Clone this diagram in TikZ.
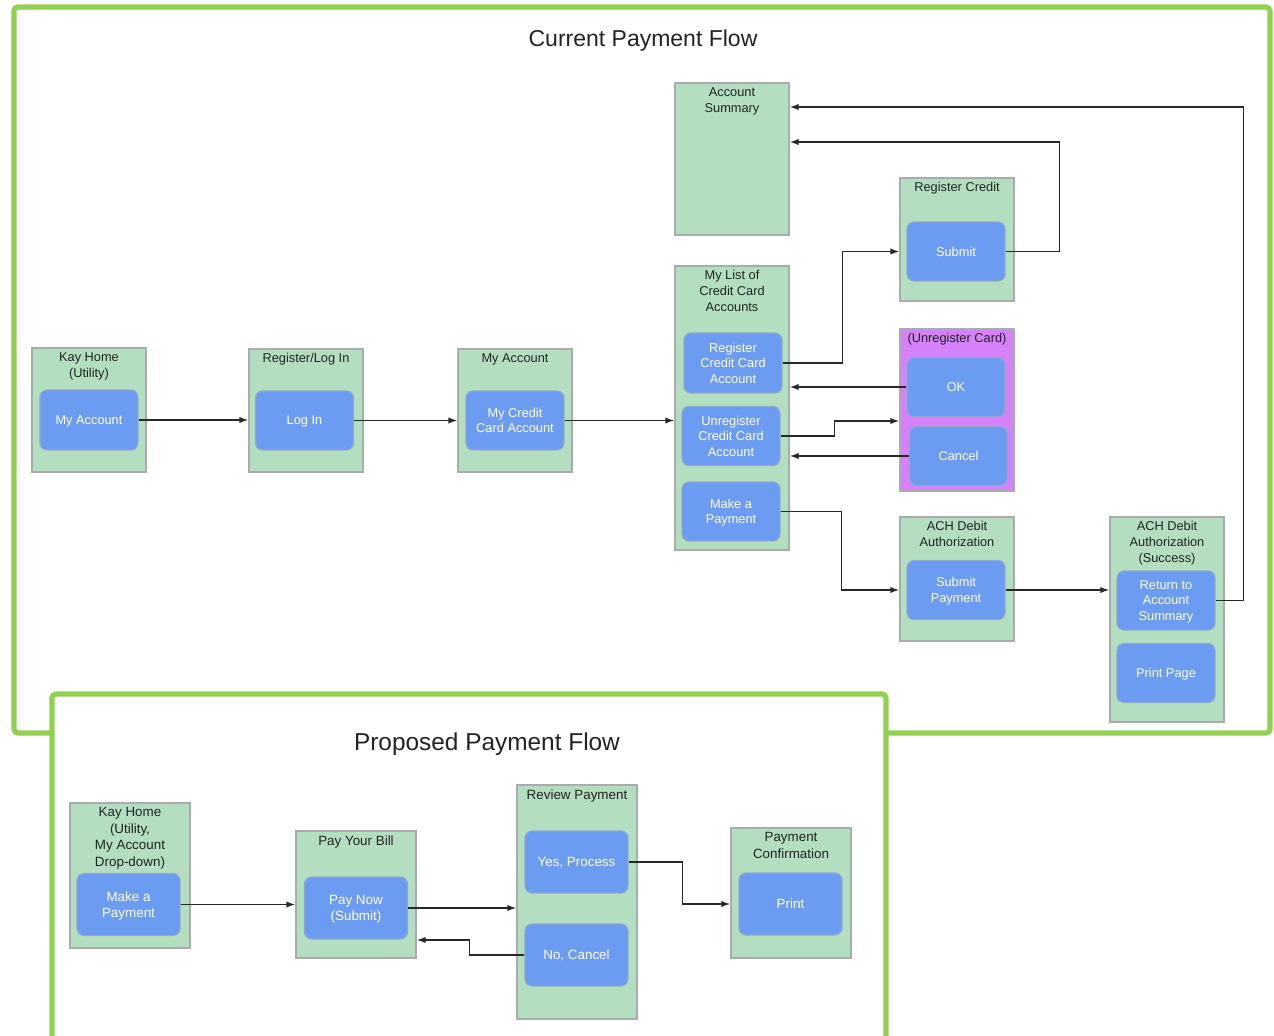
\documentclass[tikz,border=0pt]{standalone}
\usepackage{fontspec}
\setmainfont{Liberation Sans}
\usetikzlibrary{arrows.meta,positioning}

\definecolor{framegreen}{RGB}{146,208,80}
\definecolor{screengreen}{RGB}{179,223,192}
\definecolor{screenedge}{RGB}{168,172,170}
\definecolor{btnblue}{RGB}{108,155,242}
\definecolor{btnedge}{RGB}{145,168,205}
\definecolor{popuppurple}{RGB}{214,128,250}
\definecolor{inkdark}{RGB}{35,35,35}
\definecolor{linkgray}{RGB}{40,40,40}

\begin{document}
\begin{tikzpicture}[x=0.5pt, y=-0.5pt,
    % Page frames and screens
    frame/.style={draw=framegreen, line width=2.6pt, rounded corners=2pt},
    flowtitle/.style={font=\fontsize{11.5}{13}\selectfont, text=inkdark},
    screen/.style={rectangle, draw=screenedge, fill=screengreen, line width=0.7pt, minimum width=57pt, inner sep=0pt},
    popup/.style={screen, fill=popuppurple},
    heading/.style={anchor=north, align=center, inner sep=2.5pt, text=inkdark, font=\fontsize{6.4}{7.8}\selectfont},
    button/.style={rectangle, draw=btnedge, fill=btnblue, line width=0.6pt, rounded corners=3.5pt, minimum width=49pt, minimum height=29.5pt, inner sep=0pt, text depth=0pt, align=center, text=white, font=\fontsize{6.4}{7.8}\selectfont},
    bigscreen/.style={screen, minimum width=60pt},
    bigheading/.style={heading, font=\fontsize{6.7}{8.2}\selectfont},
    bigbutton/.style={button, minimum width=51.5pt, minimum height=31pt, font=\fontsize{6.7}{8.2}\selectfont},
    link/.style={-{Latex[length=4.5pt,width=3.2pt]}, line width=0.7pt, draw=linkgray}
]
\clip (0,0) rectangle (1274,1036);

% Frames
\draw[frame] (14,7) rectangle (1270,733);
\fill[white] (52,694) rectangle (886,1050);
\draw[frame] (52,1050) -- (52,694) -- (886,694) -- (886,1050);

% Titles
\node[flowtitle] (curtitle) at (643,41) {Current Payment Flow};
\node[flowtitle, font=\fontsize{12.2}{14}\selectfont] (proptitle) at (487,744) {Proposed Payment Flow};

% Current flow: screens
\node[screen, minimum height=62pt] (kayHome) at (89,410) {};
\node[heading] (kayHome-t) at (kayHome.north) {Kay Home\\(Utility)};
\node[screen, minimum height=61.5pt] (regLogin) at (306,410.5) {};
\node[heading] (regLogin-t) at (regLogin.north) {Register/Log In};
\node[screen, minimum height=61.5pt] (myAccount) at (515,410.5) {};
\node[heading] (myAccount-t) at (myAccount.north) {My Account};
\node[screen, minimum height=76pt] (acctSummary) at (732,159) {};
\node[heading] (acctSummary-t) at (acctSummary.north) {Account\\Summary};
\node[screen, minimum height=142pt] (cardList) at (732,408) {};
\node[heading] (cardList-t) at (cardList.north) {My List of\\Credit Card\\Accounts};
\node[screen, minimum height=61.5pt] (regCredit) at (957,239.5) {};
\node[heading] (regCredit-t) at (regCredit.north) {Register Credit};
\node[popup, minimum height=81pt] (unregCard) at (957,410) {};
\node[heading] (unregCard-t) at (unregCard.north) {(Unregister Card)};
\node[screen, minimum height=62pt] (achAuth) at (957,579) {};
\node[heading] (achAuth-t) at (achAuth.north) {ACH Debit\\Authorization};
\node[screen, minimum height=102.5pt] (achSuccess) at (1167,619.5) {};
\node[heading] (achSuccess-t) at (achSuccess.north) {ACH Debit\\Authorization\\(Success)};

% Current flow: buttons
\node[button, minimum height=30pt] (kayBtn) at (89,420) {My Account};
\node[button] (loginBtn) at (304.5,420.5) {Log In};
\node[button] (mycardBtn) at (515,420.5) {My Credit\\Card Account};
\node[button, minimum height=30pt] (regBtn) at (733,363) {Register\\Credit Card\\Account};
\node[button] (unregBtn) at (731,436) {Unregister\\Credit Card\\Account};
\node[button] (payBtn) at (731,511.5) {Make a\\Payment};
\node[button] (submitBtn) at (956,251.5) {Submit};
\node[button] (okBtn) at (956,387) {OK};
\node[button] (cancelBtn) at (958.5,456) {Cancel};
\node[button] (achSubmitBtn) at (956,590) {Submit\\Payment};
\node[button] (returnBtn) at (1166,600.5) {Return to\\Account\\Summary};
\node[button] (printPageBtn) at (1166,673) {Print Page};

% Current flow: connectors
\draw[link] (kayBtn.east) -- (kayBtn.east -| regLogin.west);
\draw[link] (loginBtn.east) -- (loginBtn.east -| myAccount.west);
\draw[link] (mycardBtn.east) -- (mycardBtn.east -| cardList.west);
\draw[link] (regBtn.east) -- ++(60,0) |- (regCredit.west |- submitBtn.west);
\draw[link] (submitBtn.east) -- ++(54,0) |- ([yshift=8.5pt]acctSummary.east);
\draw[link] (returnBtn.east) -- ++(28,0) |- ([yshift=26pt]acctSummary.east);
\draw[link] (okBtn.west) -- (okBtn.west -| cardList.east);
\draw[link] (unregBtn.east) -- ++(54,0) |- ([yshift=-5.5pt]unregCard.west);
\draw[link] (cancelBtn.west) -- (cancelBtn.west -| cardList.east);
\draw[link] (payBtn.east) -- ++(61,0) |- (achAuth.west |- achSubmitBtn.west);
\draw[link] (achSubmitBtn.east) -- (achSubmitBtn.east -| achSuccess.west);

% Proposed flow: screens
\node[bigscreen, minimum height=72.5pt] (kayHome2) at (130,875.5) {};
\node[bigheading] (kayHome2-t) at (kayHome2.north) {Kay Home\\(Utility,\\My Account\\Drop-down)};
\node[bigscreen, minimum height=63.5pt] (payBill) at (356,894.5) {};
\node[bigheading] (payBill-t) at (payBill.north) {Pay Your Bill};
\node[bigscreen, minimum height=117pt] (review) at (577,902) {};
\node[bigheading] (review-t) at (review.north) {Review Payment};
\node[bigscreen, minimum height=65pt] (payConf) at (791,893) {};
\node[bigheading] (payConf-t) at (payConf.north) {Payment\\Confirmation};

% Proposed flow: buttons
\node[bigbutton] (makePayBtn) at (128.5,904.5) {Make a\\Payment};
\node[bigbutton] (payNowBtn) at (356,908) {Pay Now\\(Submit)};
\node[bigbutton] (yesBtn) at (576.5,862) {Yes, Process};
\node[bigbutton] (noBtn) at (576.5,955) {No, Cancel};
\node[bigbutton] (printBtn) at (790.5,904) {Print};

% Proposed flow: connectors
\draw[link] (makePayBtn.east) -- (makePayBtn.east -| payBill.west);
\draw[link] (payNowBtn.east) -- (payNowBtn.east -| review.west);
\draw[link] (noBtn.west) -- ++(-55,0) |- ([yshift=-22.75pt]payBill.east);
\draw[link] (yesBtn.east) -- ++(54,0) |- (payConf.west |- printBtn.west);

\end{tikzpicture}
\end{document}
